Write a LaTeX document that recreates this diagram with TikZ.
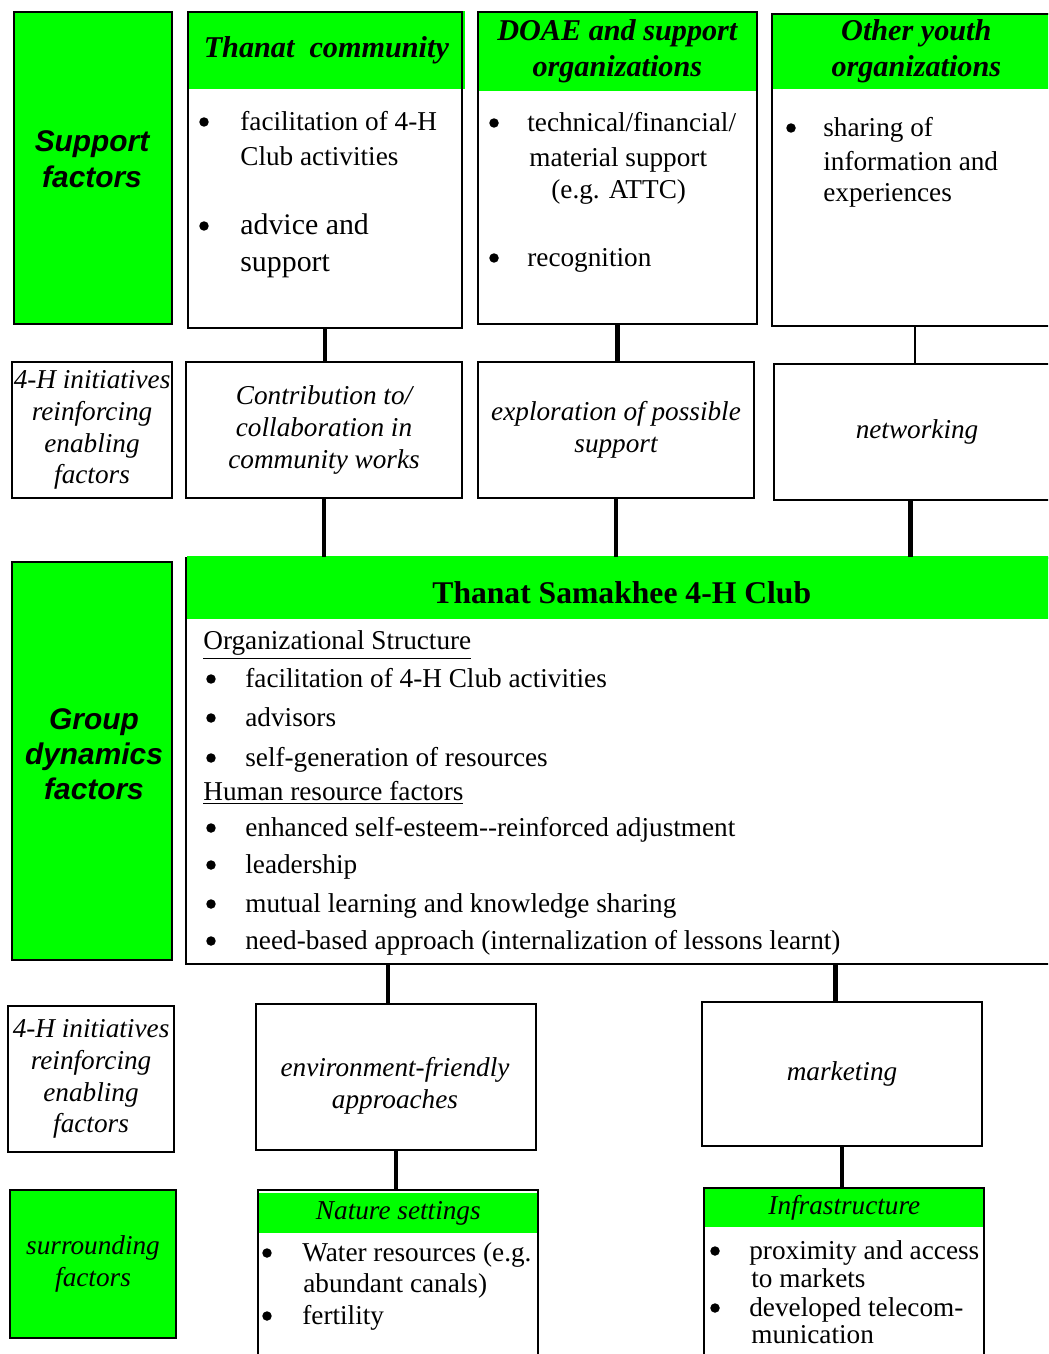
\documentclass[tikz,border=0pt]{standalone}
\usepackage{fontspec}
\setmainfont{Liberation Serif}
\setsansfont{Liberation Sans}
\definecolor{clubgreen}{RGB}{0,255,0}

\newcommand{\bodysize}{\fontsize{15.5}{20.4}\selectfont}
\newcommand{\bigsize}{\fontsize{17}{21}\selectfont}
\newcommand{\hdsize}{\fontsize{17.2}{20.4}\selectfont}
\newcommand{\lblsize}{\fontsize{15.5}{18.1}\selectfont}

\tikzset{
  box/.style={draw, line width=1.2pt, anchor=north west, inner sep=0pt},
  green box/.style={box, fill=clubgreen},
  hdr/.style={fill=clubgreen, anchor=north west, inner sep=0pt, align=center, font=\hdsize\bfseries\itshape},
  lbl/.style={align=center, font=\lblsize\itshape},
  side/.style={align=center, font=\fontsize{17}{20.2}\selectfont\sffamily\bfseries\itshape},
  ln/.style={anchor=west, inner sep=0pt, font=\bodysize, text height=12.5pt, text depth=2.5pt},
  dot/.style={circle, fill, inner sep=0pt, minimum size=5.4pt},
  link/.style={line width=2.8pt},
}

\begin{document}
\begin{tikzpicture}[x=0.02cm, y=-0.02cm]
        \useasboundingbox (0,0) rectangle (1048,1354);
        \clip (0,0) rectangle (1048,1354);

        % support factors
        \node [green box, minimum width=3.16cm, minimum height=6.24cm] (supp) at (13,11) {};
        \node [side] (supplbl) at (92,159) {Support\\factors};

        \node [hdr, minimum width=5.56cm, minimum height=1.56cm] (commhd) at (187,11) {Thanat~ community};
        \node [box, minimum width=5.48cm, minimum height=6.32cm] (comm) at (187,11) {};
        \node [dot] (cb1) at (204,122) {};
        \node [ln] (ct1) at (240,122) {facilitation of 4-H};
        \node [ln] (ct2) at (240,157) {Club activities};
        \node [dot] (cb2) at (204,226) {};
        \node [ln, font=\bigsize] (ct3) at (240,226) {advice and};
        \node [ln, font=\bigsize] (ct4) at (240,263) {support};

        \node [hdr, minimum width=5.6cm, minimum height=1.6cm] (doaehd) at (477,11) {DOAE and support\\organizations};
        \node [box, minimum width=5.58cm, minimum height=6.24cm] (doae) at (477,11) {};
        \node [dot] (db1) at (494,123) {};
        \node [ln] (dt1) at (527,123) {technical/financial/};
        \node [ln] (dt2) at (529,158) {material support};
        \node [ln] (dt3) at (551,190) {(e.g. ATTC)};
        \node [dot] (db2) at (494,258) {};
        \node [ln] (dt4) at (527,258) {recognition};

        \node [hdr, minimum width=5.8cm, minimum height=1.52cm] (youthhd) at (771,13) {Other youth\\organizations};
        \node [box, minimum width=5.72cm, minimum height=6.24cm] (youth) at (771,13) {};
        \node [dot] (yb1) at (791,128) {};
        \node [ln] (yt1) at (823,128) {sharing of};
        \node [ln] (yt2) at (823,162) {information and};
        \node [ln] (yt3) at (823,193) {experiences};

        % 4-H initiatives, first row
        \node [box, lbl, minimum width=3.2cm, minimum height=2.72cm] (init1) at (11,361) {4-H initiatives\\reinforcing\\enabling\\factors};
        \node [box, lbl, minimum width=5.52cm, minimum height=2.72cm] (contrib) at (185,361) {Contribution to/\\collaboration in\\community works};
        \node [box, lbl, minimum width=5.52cm, minimum height=2.72cm] (explore) at (477,361) {exploration of possible\\support};
        \node [box, lbl, minimum width=5.72cm, minimum height=2.72cm] (netw) at (773,363) {networking};

        % group dynamics
        \node [green box, minimum width=3.2cm, minimum height=7.96cm] (group) at (11,561) {};
        \node [side, font=\fontsize{17}{19.8}\selectfont\sffamily\bfseries\itshape] (grouplbl) at (94,754) {Group\\dynamics\\factors};

        \node [box, minimum width=17.4cm, minimum height=8.12cm] (club) at (185,557) {};
        \node [hdr, font=\fontsize{18}{21}\selectfont\bfseries, text height=18pt, text depth=0pt, minimum width=17.4cm, minimum height=1.26cm] (clubhd) at (186.5,556) {Thanat Samakhee 4-H Club};
        \node [ln] (orghd) at (203,641) {\underline{Organizational Structure}};
        \foreach \yy/\tx [count=\i] in {679/facilitation of 4-H Club activities, 718/advisors, 758/self-generation of resources}
        {
        \node [dot] (ob\i) at (211,\yy) {};
        \node [ln] (ot\i) at (245,\yy) {\tx};
        }
        \node [ln] (humhd) at (203,792) {\underline{Human resource factors}};
        \foreach \yy/\tx [count=\i] in {828/enhanced self-esteem-{}-reinforced adjustment, 865/leadership, 904/mutual learning and knowledge sharing, 941/need-based approach (internalization of lessons learnt)}
        {
        \node [dot] (hb\i) at (211,\yy) {};
        \node [ln] (ht\i) at (245,\yy) {\tx};
        }

        % 4-H initiatives, second row
        \node [box, lbl, minimum width=3.32cm, minimum height=2.92cm] (init2) at (7,1005) {4-H initiatives\\reinforcing\\enabling\\factors};
        \node [box, minimum width=5.6cm, minimum height=2.92cm] (envir) at (255,1003) {};
        \node [lbl] (envirlbl) at (395,1086) {environment-friendly\\approaches};
        \node [box, lbl, minimum width=5.6cm, minimum height=2.88cm] (market) at (701,1001) {marketing};

        % surrounding factors
        \node [green box, lbl, minimum width=3.32cm, minimum height=2.96cm] (surr) at (9,1189) {surrounding\\factors};

        \node [hdr, font=\lblsize\itshape, minimum width=5.64cm, minimum height=0.8cm] (naturehd) at (257,1193) {Nature settings};
        \node [box, minimum width=5.6cm, minimum height=4cm] (nature) at (257,1189) {};
        \node [dot] (nb1) at (267,1253) {};
        \node [ln] (nt1) at (302,1253) {Water resources (e.g.};
        \node [ln] (nt2) at (303,1284) {abundant canals)};
        \node [dot] (nb2) at (267,1316) {};
        \node [ln] (nt3) at (302,1316) {fertility};

        \node [hdr, font=\lblsize\itshape, minimum width=5.64cm, minimum height=0.8cm] (infrahd) at (703,1187) {Infrastructure};
        \node [box, minimum width=5.6cm, minimum height=4cm] (infra) at (703,1187) {};
        \node [dot] (ib1) at (715,1251) {};
        \node [ln] (it1) at (749,1251) {proximity and access};
        \node [ln] (it2) at (751,1279) {to markets};
        \node [dot] (ib2) at (715,1308) {};
        \node [ln] (it3) at (749,1308) {developed telecom-};
        \node [ln] (it4) at (751,1335) {munication};

        % connectors
        \draw [link] (comm.south) -- (comm.south |- contrib.north);
        \draw [link] (doae.south) -- (doae.south |- explore.north);
        \draw [link, line width=1.6pt] (youth.south) -- (youth.south |- netw.north);
        \draw [link] (contrib.south) -- (contrib.south |- club.north);
        \draw [link] (explore.south) -- (explore.south |- club.north);
        \draw [link] ([xshift=-0.14cm]netw.south) -- ([xshift=-0.14cm]netw.south |- club.north);
        \draw [link] ([xshift=-0.16cm]envir.north) -- ([xshift=-0.16cm]envir.north |- club.south);
        \draw [link] ([xshift=-0.14cm]market.north) -- ([xshift=-0.14cm]market.north |- club.south);
        \draw [link] (envir.south) -- (envir.south |- nature.north);
        \draw [link, line width=2.2pt] (market.south) -- (market.south |- infra.north);
\end{tikzpicture}
\end{document}
